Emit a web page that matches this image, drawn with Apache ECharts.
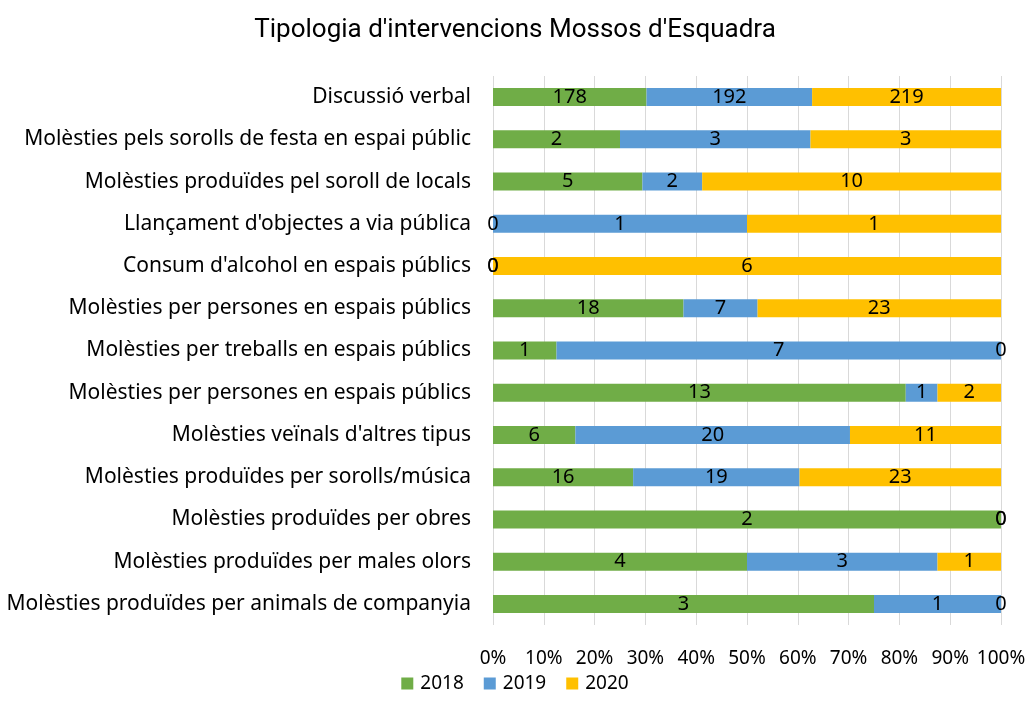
<!DOCTYPE html>
<html>
<head>
<meta charset="utf-8">
<script src="https://cdn.jsdelivr.net/npm/echarts@6/dist/echarts.min.js"></script>
<style>
  html, body { margin: 0; padding: 0; background: #fff; }
  #chart { width: 1030px; height: 720px; }
</style>
</head>
<body>
<div id="chart"></div>
<script>
  // categories, top to bottom
  var categories = [
    'Discussió verbal',
    'Molèsties pels sorolls de festa en espai públic',
    'Molèsties produïdes pel soroll de locals',
    "Llançament d'objectes a via pública",
    "Consum d'alcohol en espais públics",
    'Molèsties per persones en espais públics',
    'Molèsties per treballs en espais públics',
    'Molèsties per persones en espais públics',
    "Molèsties veïnals d'altres tipus",
    'Molèsties produïdes per sorolls/música',
    'Molèsties produïdes per obres',
    'Molèsties produïdes per males olors',
    'Molèsties produïdes per animals de companyia'
  ];
  var years = ['2018', '2019', '2020'];
  var values2018 = [178, 2, 5, 0, 0, 18, 1, 13, 6, 16, 2, 4, 3];
  var values2019 = [192, 3, 2, 1, 0, 7, 7, 1, 20, 19, 0, 3, 1];
  var values2020 = [219, 3, 10, 1, 6, 23, 0, 2, 11, 23, 0, 1, 0];
  var colors = ['#70AD47', '#5B9BD5', '#FFC000'];
  var xTicks = [0, 10, 20, 30, 40, 50, 60, 70, 80, 90, 100];

  var raw = [values2018, values2019, values2020];
  var totals = categories.map(function (c, i) {
    return values2018[i] + values2019[i] + values2020[i];
  });

  var font = 'Noto Sans';

  var series = years.map(function (y, k) {
    return {
      name: y,
      type: 'bar',
      stack: 'total',
      barWidth: 18,
      itemStyle: { color: colors[k] },
      label: {
        show: true,
        position: 'inside',
        color: '#000',
        fontFamily: font,
        fontSize: 20,
        formatter: function (p) { return raw[k][p.dataIndex]; }
      },
      data: raw[k].map(function (v, i) { return v / totals[i] * 100; })
    };
  });

  var chart = echarts.init(document.getElementById('chart'));
  chart.setOption({
    animation: false,
    textStyle: { fontFamily: font },
    title: {
      text: "Tipologia d'intervencions Mossos d'Esquadra",
      left: 'center',
      top: 12,
      textStyle: { fontFamily: 'Roboto', fontWeight: 'normal', fontSize: 26, color: '#000' }
    },
    legend: {
      bottom: 22,
      left: 'center',
      itemWidth: 12,
      itemHeight: 12,
      itemGap: 20,
      icon: 'rect',
      textStyle: { fontFamily: font, fontSize: 19, color: '#000', padding: [0, 0, 0, 2] },
      data: years
    },
    grid: { left: 493, right: 29, top: 76, height: 549, containLabel: false },
    xAxis: {
      type: 'value',
      min: 0,
      max: 100,
      interval: 10,
      axisLine: { show: false },
      axisTick: { show: false },
      splitLine: { show: true, lineStyle: { color: '#d9d9d9', width: 1 } },
      axisLabel: {
        color: '#000',
        fontSize: 19,
        margin: 24,
        formatter: function (v) { return xTicks.indexOf(v) >= 0 ? v + '%' : ''; }
      }
    },
    yAxis: {
      type: 'category',
      inverse: true,
      data: categories,
      axisLine: { show: false },
      axisTick: { show: false },
      axisLabel: { color: '#000', fontSize: 21, margin: 22 }
    },
    series: series
  });
</script>
</body>
</html>
